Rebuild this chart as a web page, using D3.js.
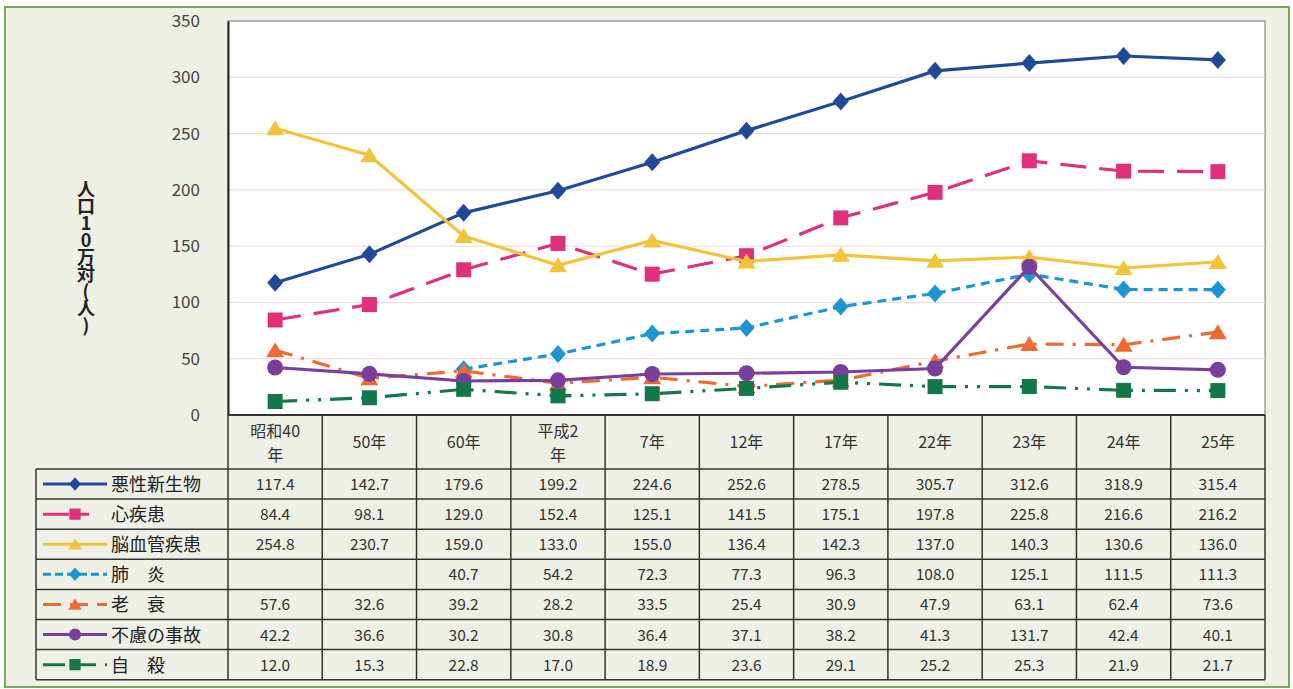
<!DOCTYPE html>
<html>
<head>
<meta charset="utf-8">
<script src="https://cdn.jsdelivr.net/npm/d3@7"></script>
<style>
  body { margin: 0; background: #fff; }
  svg { display: block; font-family: "Noto Sans CJK JP", "Noto Sans", sans-serif; }
</style>
</head>
<body>
<svg id="drawing_region"></svg>
<script>
// categories (table header)
const categories = ["昭和40年", "50年", "60年", "平成2年", "7年", "12年", "17年", "22年", "23年", "24年", "25年"];
const headerLabels = [["昭和40", "年"], ["50年"], ["60年"], ["平成2", "年"], ["7年"], ["12年"], ["17年"], ["22年"], ["23年"], ["24年"], ["25年"]];
const yTicks = [0, 50, 100, 150, 200, 250, 300, 350];

// series values (人口10万対)
const akusei  = [117.4, 142.7, 179.6, 199.2, 224.6, 252.6, 278.5, 305.7, 312.6, 318.9, 315.4];
const shin    = [84.4, 98.1, 129.0, 152.4, 125.1, 141.5, 175.1, 197.8, 225.8, 216.6, 216.2];
const nou     = [254.8, 230.7, 159.0, 133.0, 155.0, 136.4, 142.3, 137.0, 140.3, 130.6, 136.0];
const haien   = [null, null, 40.7, 54.2, 72.3, 77.3, 96.3, 108.0, 125.1, 111.5, 111.3];
const rousui  = [57.6, 32.6, 39.2, 28.2, 33.5, 25.4, 30.9, 47.9, 63.1, 62.4, 73.6];
const furyo   = [42.2, 36.6, 30.2, 30.8, 36.4, 37.1, 38.2, 41.3, 131.7, 42.4, 40.1];
const jisatsu = [12.0, 15.3, 22.8, 17.0, 18.9, 23.6, 29.1, 25.2, 25.3, 21.9, 21.7];

const seriesNames = ["悪性新生物", "心疾患", "脳血管疾患", "肺　炎", "老　衰", "不慮の事故", "自　殺"];

// custom marker shapes
const diamond = { draw(ctx) { ctx.moveTo(0, -9); ctx.lineTo(8, 0); ctx.lineTo(0, 9); ctx.lineTo(-8, 0); ctx.closePath(); } };
const square = { draw(ctx) { ctx.rect(-7.5, -7.5, 15, 15); } };
const triangle = { draw(ctx) { ctx.moveTo(0, -8); ctx.lineTo(9, 7); ctx.lineTo(-9, 7); ctx.closePath(); } };
const circle = { draw(ctx) { ctx.moveTo(8, 0); ctx.arc(0, 0, 8, 0, 2 * Math.PI); } };

const styles = [
  { color: "#1f4a9a", dash: null, shape: diamond },
  { color: "#e0307c", dash: "26,13", shape: square },
  { color: "#f3c33c", dash: null, shape: triangle },
  { color: "#1b96d2", dash: "9,6", shape: diamond },
  { color: "#ef6a32", dash: "18,9,3,9", shape: triangle },
  { color: "#7a3f9c", dash: null, shape: circle },
  { color: "#13774a", dash: "22,9,3,9,3,9", shape: square }
];
const allSeries = [akusei, shin, nou, haien, rousui, furyo, jisatsu];

const W = 1293, H = 689;
const plot = { left: 228, right: 1265, top: 21, bottom: 415 };
const rowH = 30.1;
const headerBottom = 469;
const tableLeft = 36;

const svg = d3.select("#drawing_region").attr("width", W).attr("height", H);

// frame
svg.append("rect").attr("x", 5).attr("y", 7).attr("width", 1284).attr("height", 680)
  .attr("fill", "#eef0e5").attr("stroke", "#78a85e").attr("stroke-width", 2);

const xscale = d3.scaleBand().domain(categories).range([plot.left, plot.right]);
const yscale = d3.scaleLinear().domain([0, 350]).range([plot.bottom, plot.top]);
const xc = c => xscale(c) + xscale.bandwidth() / 2;

// plot background
svg.append("rect").attr("x", plot.left).attr("y", plot.top)
  .attr("width", plot.right - plot.left).attr("height", plot.bottom - plot.top)
  .attr("fill", "#fff").attr("stroke", "#888").attr("stroke-width", 1.2);

// grid
svg.append("g").selectAll("line").data(yTicks.filter(t => t > 0 && t < 350)).join("line")
  .attr("x1", plot.left).attr("x2", plot.right)
  .attr("y1", d => yscale(d)).attr("y2", d => yscale(d))
  .attr("stroke", "#ead9d6").attr("stroke-width", 1);

// y axis
const yaxis = d3.axisLeft(yscale).tickValues(yTicks).tickSize(0).tickPadding(28);
const yg = svg.append("g").attr("transform", `translate(${plot.left},0)`).call(yaxis);
yg.select(".domain").attr("stroke", "#222").attr("stroke-width", 2);
yg.selectAll("text").attr("font-size", 17).attr("fill", "#444")
  .attr("font-family", "'Noto Sans CJK JP', sans-serif");

// y title
svg.append("text")
  .attr("x", 86).attr("y", 180)
  .attr("font-size", 18).attr("font-weight", "bold").attr("fill", "#222")
  .style("writing-mode", "vertical-rl").style("text-orientation", "upright")
  .attr("letter-spacing", -1)
  .text("人口10万対(人)");

// lines and markers
allSeries.forEach((vals, i) => {
  const st = styles[i];
  const pts = categories.map((c, j) => ({ c, v: vals[j] })).filter(d => d.v !== null);
  const line = d3.line().x(d => xc(d.c)).y(d => yscale(d.v));
  svg.append("path").datum(pts).attr("d", line)
    .attr("fill", "none").attr("stroke", st.color).attr("stroke-width", 3.2)
    .attr("stroke-dasharray", st.dash);
  svg.append("g").selectAll("path").data(pts).join("path")
    .attr("d", d3.symbol().type(st.shape))
    .attr("transform", d => `translate(${xc(d.c)},${yscale(d.v)})`)
    .attr("fill", st.color);
});

// table
const tbl = svg.append("g");
const tableBottom = headerBottom + rowH * seriesNames.length;
const bw = xscale.bandwidth();

// header labels
categories.forEach((c, j) => {
  const lines = headerLabels[j];
  const t = tbl.append("text").attr("text-anchor", "middle").attr("font-size", 16).attr("fill", "#333");
  if (lines.length === 1) {
    t.append("tspan").attr("x", xc(c)).attr("y", 448).text(lines[0]);
  } else {
    t.append("tspan").attr("x", xc(c)).attr("y", 437).text(lines[0]);
    t.append("tspan").attr("x", xc(c)).attr("y", 461).text(lines[1]);
  }
});

// values
allSeries.forEach((vals, i) => {
  const cy = headerBottom + rowH * i + rowH / 2 + 6;
  categories.forEach((c, j) => {
    if (vals[j] === null) return;
    tbl.append("text").attr("x", xc(c)).attr("y", cy)
      .attr("text-anchor", "middle").attr("font-size", 15.5).attr("fill", "#333")
      .text(vals[j].toFixed(1));
  });
  // legend
  const st = styles[i];
  const ly = headerBottom + rowH * i + rowH / 2;
  tbl.append("line").attr("x1", 43).attr("x2", 107).attr("y1", ly).attr("y2", ly)
    .attr("stroke", st.color).attr("stroke-width", 3)
    .attr("stroke-dasharray", st.dash ? (i === 1 ? "26,10,10" : i === 3 ? "8,4" : st.dash.split(",").slice(0, 2).join(",") ) : null);
  tbl.append("path").attr("d", d3.symbol().type(st.shape)).attr("fill", st.color)
    .attr("transform", `translate(75,${ly}) scale(0.75)`);
  tbl.append("text").attr("x", 111).attr("y", ly + 7).attr("font-size", 18).attr("fill", "#222")
    .text(seriesNames[i]);
});

// grid lines of table
const border = "#333";
// verticals for data columns
const colEdges = categories.map(c => xscale(c)).concat([plot.right]);
colEdges.forEach(x => {
  tbl.append("line").attr("x1", x).attr("x2", x).attr("y1", plot.bottom).attr("y2", tableBottom)
    .attr("stroke", border).attr("stroke-width", 1.5);
});
tbl.append("line").attr("x1", tableLeft).attr("x2", tableLeft).attr("y1", headerBottom).attr("y2", tableBottom)
  .attr("stroke", border).attr("stroke-width", 1.5);
// horizontals
tbl.append("line").attr("x1", plot.left).attr("x2", plot.right).attr("y1", plot.bottom).attr("y2", plot.bottom)
  .attr("stroke", border).attr("stroke-width", 2);
d3.range(seriesNames.length + 1).forEach(k => {
  const y = headerBottom + rowH * k;
  tbl.append("line").attr("x1", tableLeft).attr("x2", plot.right).attr("y1", y).attr("y2", y)
    .attr("stroke", border).attr("stroke-width", 1.5);
});
</script>
</body>
</html>
